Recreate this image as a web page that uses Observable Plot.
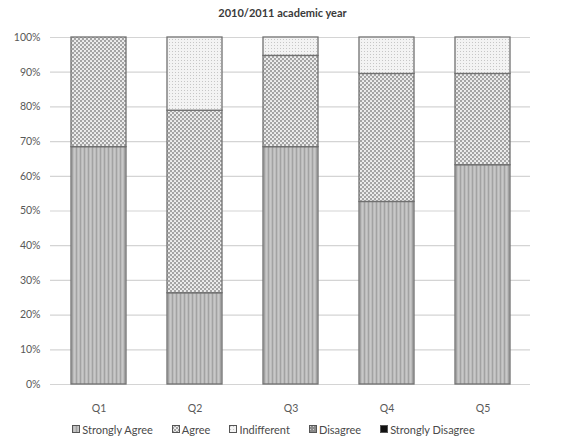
<!DOCTYPE html>
<html>
<head>
<meta charset="utf-8">
<script src="https://cdn.jsdelivr.net/npm/d3@7"></script>
<script src="https://cdn.jsdelivr.net/npm/@observablehq/plot@0.6"></script>
<style>
  html, body { margin: 0; padding: 0; background: #fff; }
  body { width: 565px; height: 444px; overflow: hidden; font-family: Lato, "Open Sans", sans-serif; }
  #title { height: 26px; line-height: 26px; text-align: center; font-size: 11px; font-weight: bold; color: #3a3a3a; }
  #legend { display: flex; justify-content: center; align-items: center; gap: 19px; height: 16px; font-size: 11px; color: #4a4a4a; padding-right: 18px; }
  #legend .item { display: flex; align-items: center; gap: 2px; }
  #legend svg { display: block; }
</style>
</head>
<body>
<svg width="0" height="0" style="position:absolute">
  <defs>
    <pattern id="pSA" width="4" height="4" patternUnits="userSpaceOnUse">
      <rect width="4" height="4" fill="#bcbcbc"/>
      <rect x="0" width="1" height="4" fill="#a2a2a2"/>
      <rect x="2" width="1" height="4" fill="#c8c8c8"/>
    </pattern>
    <pattern id="pA" width="4" height="4" patternUnits="userSpaceOnUse">
      <rect width="4" height="4" fill="#a4a4a4"/>
      <circle cx="1" cy="1" r="1.05" fill="#f6f6f6"/>
      <circle cx="3" cy="3" r="1.05" fill="#f6f6f6"/>
    </pattern>
    <pattern id="pI" width="3" height="3" patternUnits="userSpaceOnUse">
      <rect width="3" height="3" fill="#f3f3f3"/>
      <rect x="1" y="1" width="1" height="1" fill="#c6c6c6"/>
    </pattern>
    <pattern id="pD" width="3" height="3" patternUnits="userSpaceOnUse">
      <rect width="3" height="3" fill="#8a8a8a"/>
      <rect x="1" y="1" width="1" height="1" fill="#d0d0d0"/>
    </pattern>
    <pattern id="pSD" width="4" height="4" patternUnits="userSpaceOnUse">
      <rect width="4" height="4" fill="#111"/>
    </pattern>
  </defs>
</svg>
<div id="title">2010/2011 academic year</div>
<div id="chart"></div>
<div id="legend"></div>
<script>
const questions = ["Q1", "Q2", "Q3", "Q4", "Q5"];
const answers = ["Strongly Agree", "Agree", "Indifferent", "Disagree", "Strongly Disagree"];
const stronglyAgree = [68.4, 26.3, 68.4, 52.6, 63.2];
const agree = [31.6, 52.6, 26.3, 36.9, 26.3];
const indifferent = [0, 21.1, 5.3, 10.5, 10.5];
const disagree = [0, 0, 0, 0, 0];
const stronglyDisagree = [0, 0, 0, 0, 0];
const yTicks = [0, 10, 20, 30, 40, 50, 60, 70, 80, 90, 100];
const patterns = ["url(#pSA)", "url(#pA)", "url(#pI)", "url(#pD)", "url(#pSD)"];

const series = [stronglyAgree, agree, indifferent, disagree, stronglyDisagree];
const data = [];
questions.forEach((q, i) => {
  answers.forEach((a, j) => data.push({question: q, answer: a, value: series[j][i]}));
});

const chart = Plot.plot({
  width: 565,
  height: 395,
  marginTop: 11,
  marginBottom: 37,
  marginLeft: 50,
  marginRight: 35,
  style: {fontFamily: "Lato, 'Open Sans', sans-serif", fontSize: "10.5px", color: "#595959", background: "#fff"},
  x: {domain: questions, paddingInner: 0.43, paddingOuter: 0.2, label: null, tickSize: 0, tickPadding: 20},
  y: {domain: [0, 100], ticks: yTicks, tickFormat: d => d + "%", label: null, tickSize: 0, tickPadding: 10},
  color: {domain: answers, range: patterns},
  marks: [
    Plot.ruleY(yTicks, {stroke: "#d4d4d4", strokeWidth: 1.2}),
    Plot.barY(data.filter(d => d.value > 0), Plot.stackY({
      x: "question", y: "value", fill: "answer", order: answers,
      stroke: "#707070", strokeWidth: 1.3
    }))
  ]
});
document.getElementById("chart").appendChild(chart);

const legend = document.getElementById("legend");
answers.forEach((a, j) => {
  const item = document.createElement("div");
  item.className = "item";
  item.innerHTML = `<svg width="8" height="8"><rect x="0.5" y="0.5" width="7" height="7" fill="${patterns[j]}" stroke="#555" stroke-width="1"/></svg><span>${a}</span>`;
  legend.appendChild(item);
});
</script>
</body>
</html>
